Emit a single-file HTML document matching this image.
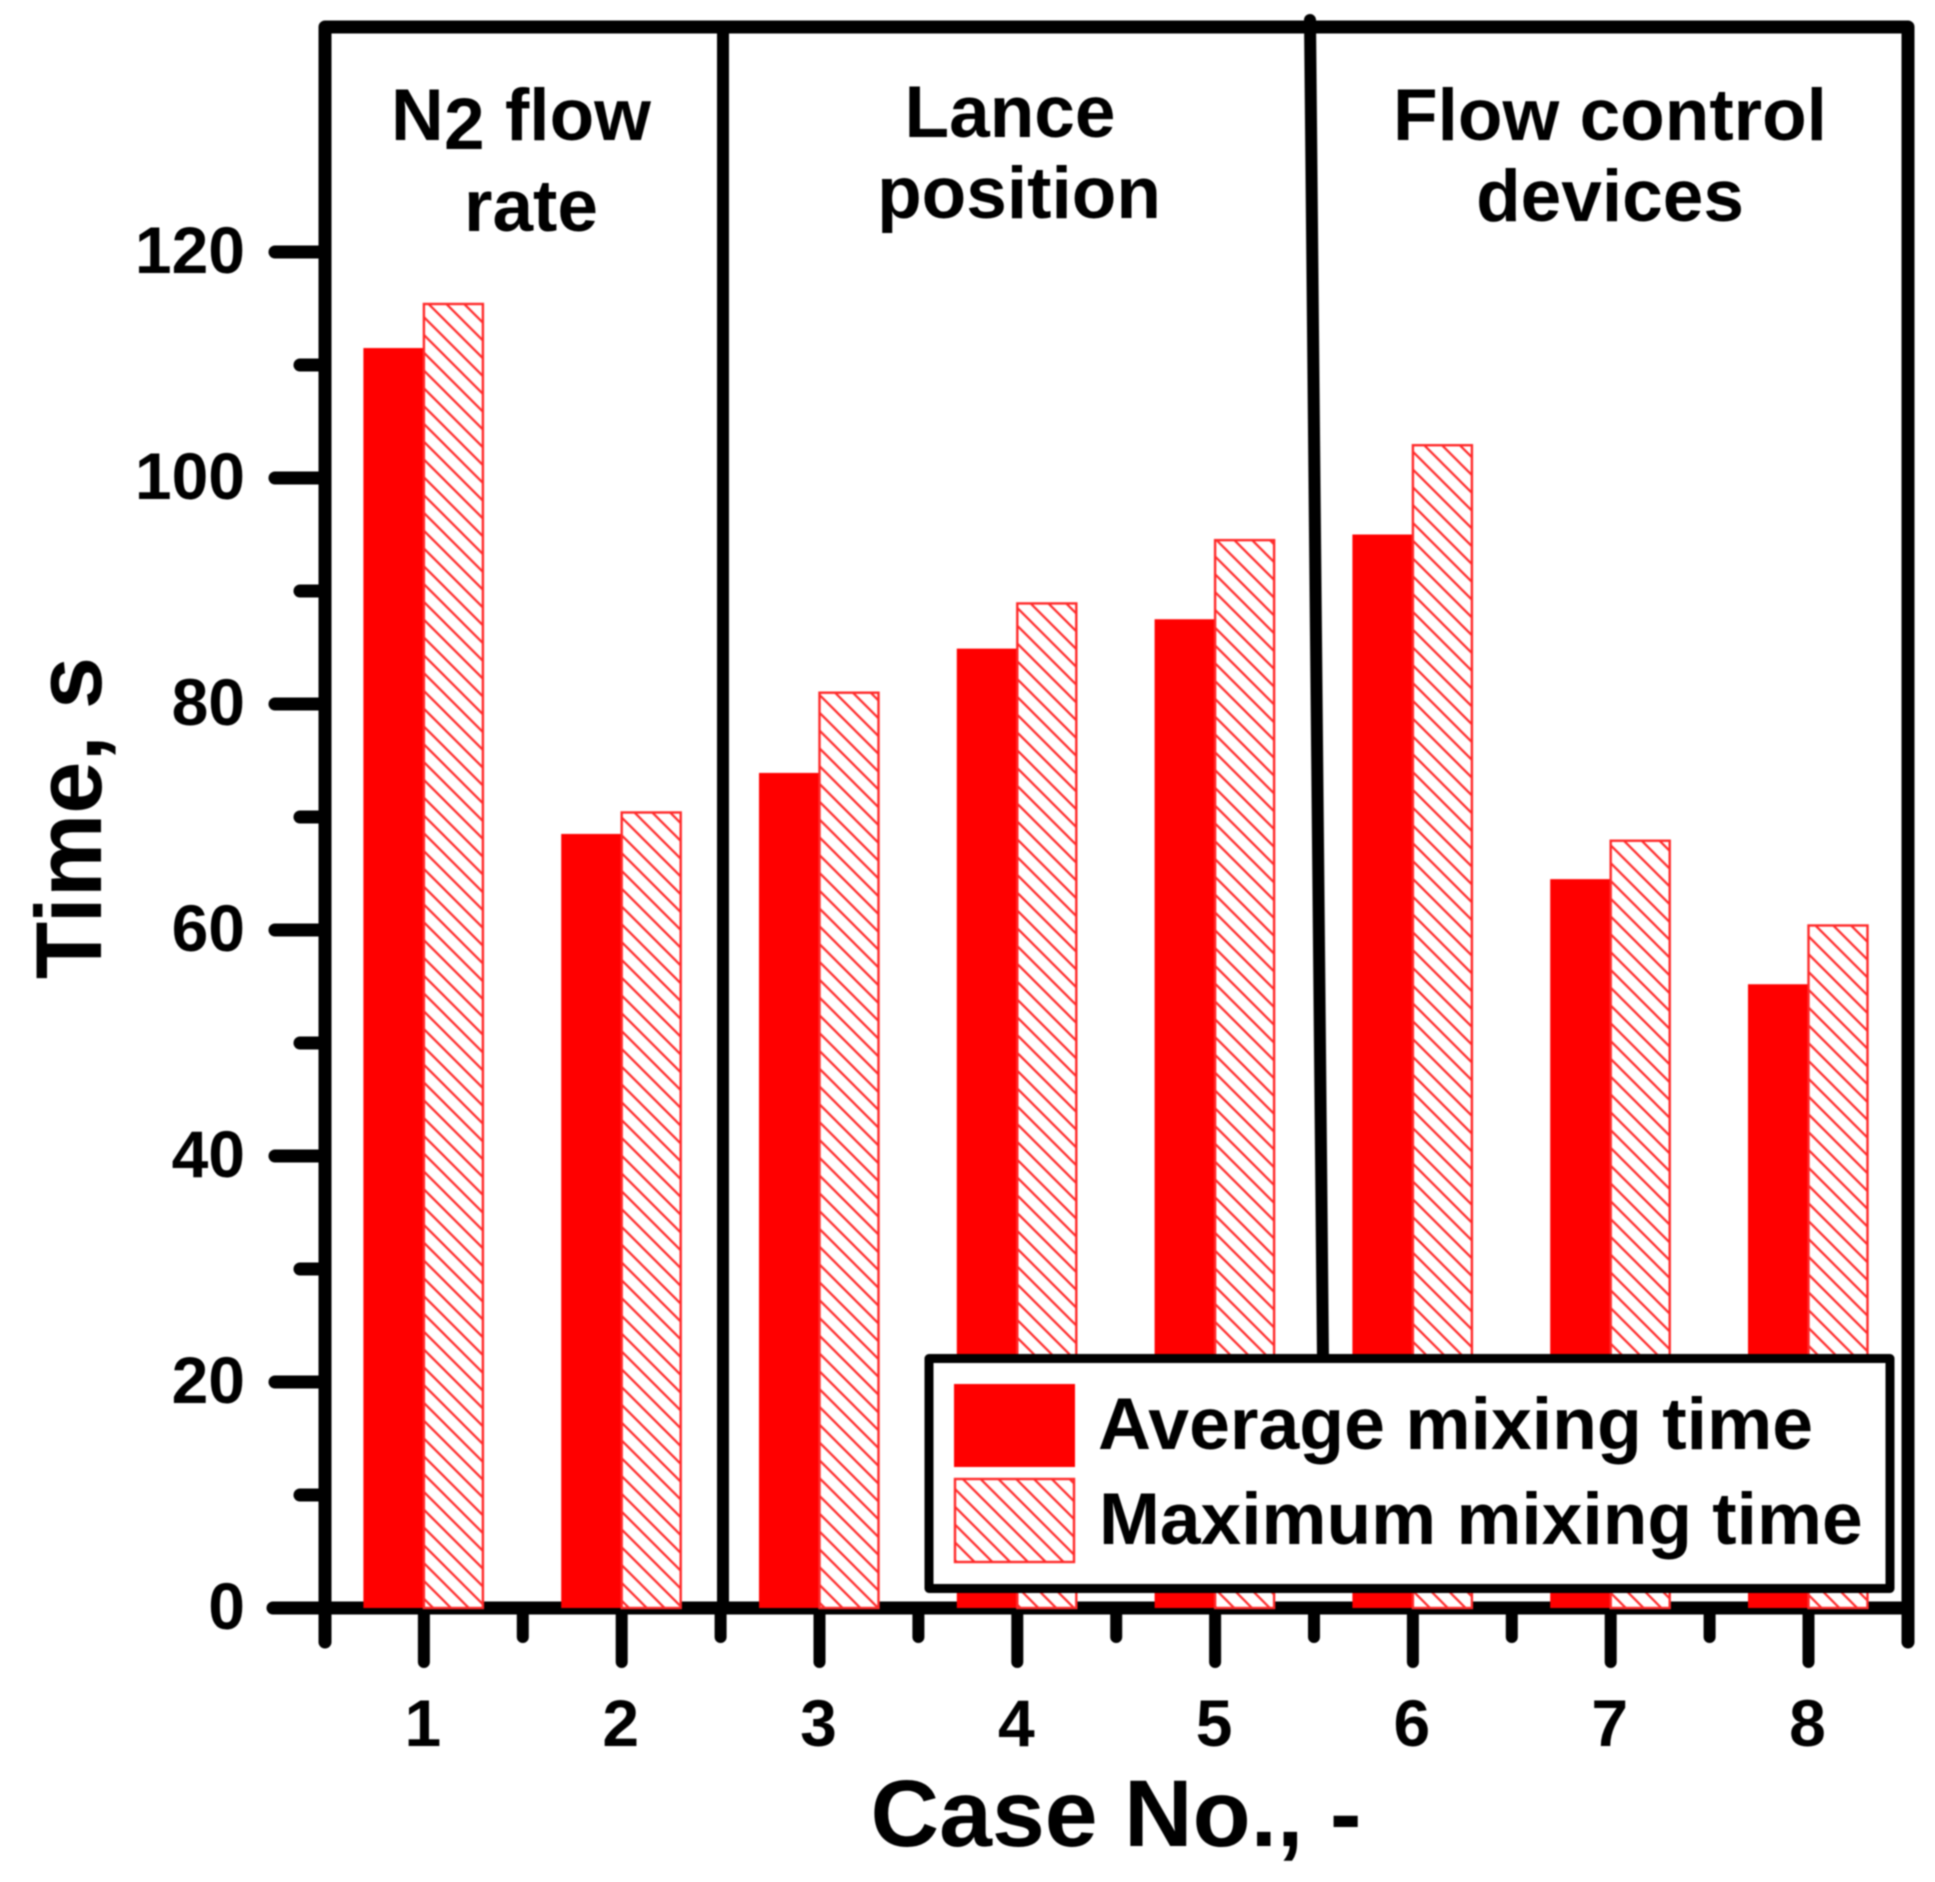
<!DOCTYPE html>
<html lang="en">
<head>
<meta charset="utf-8">
<title>Mixing time by case</title>
<style>
html,body{margin:0;padding:0;background:#fff;}
svg{display:block;filter:blur(0.8px);}
text{font-family:"Liberation Sans",Arial,sans-serif;font-weight:bold;fill:#000;}
</style>
</head>
<body>
<svg id="chart" xmlns="http://www.w3.org/2000/svg" width="1935" height="1882" viewBox="0 0 1935 1882">
  <defs>
    <pattern id="hatch" patternUnits="userSpaceOnUse" width="17.8" height="17.8">
      <rect width="17.8" height="17.8" fill="#fff"/>
      <line x1="-2" y1="-2" x2="19.8" y2="19.8" stroke="#ff2a2a" stroke-width="2.2"/>
      <line x1="-2" y1="15.8" x2="2" y2="19.8" stroke="#ff2a2a" stroke-width="2.2"/>
      <line x1="15.8" y1="-2" x2="19.8" y2="2" stroke="#ff2a2a" stroke-width="2.2"/>
    </pattern>
  </defs>
  <rect width="1935" height="1882" fill="#fff"/>

  <g id="axes"></g>

  <g fill="none" stroke="#000" stroke-linecap="round" stroke-linejoin="round">
    <path d="M325 1642 V27 H1908 V1642" stroke-width="13"/>
    <line x1="723" y1="27" x2="723" y2="1608" stroke-width="12"/>
    <line x1="1310" y1="20" x2="1323" y2="1360" stroke-width="12"/>
  </g>

  <g id="bars"></g>

  <g font-size="73">
    <text x="391" y="140">N</text>
    <text x="444" y="149">2</text>
    <text x="505" y="140">flow</text>
    <text x="531" y="231" text-anchor="middle">rate</text>
  </g>
  <g font-size="73" text-anchor="middle">
    <text x="1010" y="137">Lance</text>
    <text x="1019" y="218">position</text>
  </g>
  <g font-size="73" text-anchor="middle">
    <text x="1610" y="140">Flow control</text>
    <text x="1610" y="221">devices</text>
  </g>

  <text font-size="94" text-anchor="middle" transform="translate(101 818) rotate(-90)">Time, s</text>
  <text font-size="95" text-anchor="middle" x="1116" y="1846">Case No., -</text>

  <g>
    <rect x="929" y="1358.5" width="961" height="230" fill="#fff" stroke="#000" stroke-width="9" stroke-linejoin="round"/>
    <rect x="954" y="1384" width="121" height="83" fill="#ff0000"/>
    <text x="1098" y="1449" font-size="73.4">Average mixing time</text>
    <rect x="955" y="1479" width="119" height="83" fill="url(#hatch)" stroke="#ff2a2a" stroke-width="2.4"/>
    <text x="1099" y="1544" font-size="73.1">Maximum mixing time</text>
  </g>
</svg>
<script>
const categories = [1, 2, 3, 4, 5, 6, 7, 8];
const averageTime = [111.5, 68.5, 73.9, 84.9, 87.5, 95.0, 64.5, 55.2];
const maximumTime = [115.4, 70.4, 81.0, 88.9, 94.5, 102.9, 67.9, 60.4];
const yMajorTicks = [0, 20, 40, 60, 80, 100, 120];
const yMinorTicks = [10, 30, 50, 70, 90, 110];

const NS = 'http://www.w3.org/2000/svg';
const X0 = 325, CASE_W = 197.8, Y0 = 1608, UNIT = 11.3, BAR_W = 60;
function xScale(c) { return X0 + (c - 0.5) * CASE_W; }
function yScale(v) { return Y0 - v * UNIT; }
function mk(parent, tag, props) {
  const el = document.createElementNS(NS, tag);
  for (const k in props) el.setAttribute(k, props[k]);
  parent.appendChild(el);
  return el;
}
const axes = document.getElementById('axes');
const bars = document.getElementById('bars');

const xAxisLine = mk(axes, 'line', {x1: 273, y1: Y0, x2: 1908, y2: Y0, stroke: '#000', 'stroke-width': 13, 'stroke-linecap': 'round'});



yMajorTicks.forEach(function (v) {
  const t = mk(axes, 'line', {x1: 275, y1: yScale(v), x2: X0, y2: yScale(v), stroke: '#000', 'stroke-width': 13, 'stroke-linecap': 'round'});
  
  
  const l = mk(axes, 'text', {x: 245, y: yScale(v) + 21, 'font-size': 66, 'text-anchor': 'end'});
  l.textContent = v;
  
  
});
yMinorTicks.forEach(function (v) {
  const t = mk(axes, 'line', {x1: 300, y1: yScale(v), x2: X0, y2: yScale(v), stroke: '#000', 'stroke-width': 13, 'stroke-linecap': 'round'});
  
  
});

categories.forEach(function (c, i) {
  const x = xScale(c);
  const t = mk(axes, 'line', {x1: x, y1: Y0, x2: x, y2: 1662, stroke: '#000', 'stroke-width': 12, 'stroke-linecap': 'round'});
  
  
  const l = mk(axes, 'text', {x: x - 1, y: 1746, 'font-size': 66, 'text-anchor': 'middle'});
  l.textContent = c;
  
  
  if (i < categories.length - 1) {
    const m = mk(axes, 'line', {x1: x + CASE_W / 2, y1: Y0, x2: x + CASE_W / 2, y2: 1637, stroke: '#000', 'stroke-width': 12, 'stroke-linecap': 'round'});
    
    
  }

  const a = mk(bars, 'rect', {x: x - BAR_W - 0.5, y: yScale(averageTime[i]), width: BAR_W + 0.5, height: Y0 - yScale(averageTime[i]), fill: '#ff0000'});
  
  
  const b = mk(bars, 'rect', {x: x, y: yScale(maximumTime[i]), width: BAR_W - 1, height: Y0 - yScale(maximumTime[i]), fill: 'url(#hatch)', stroke: '#ff2a2a', 'stroke-width': 2.4});
  
  
});
</script>
</body>
</html>
